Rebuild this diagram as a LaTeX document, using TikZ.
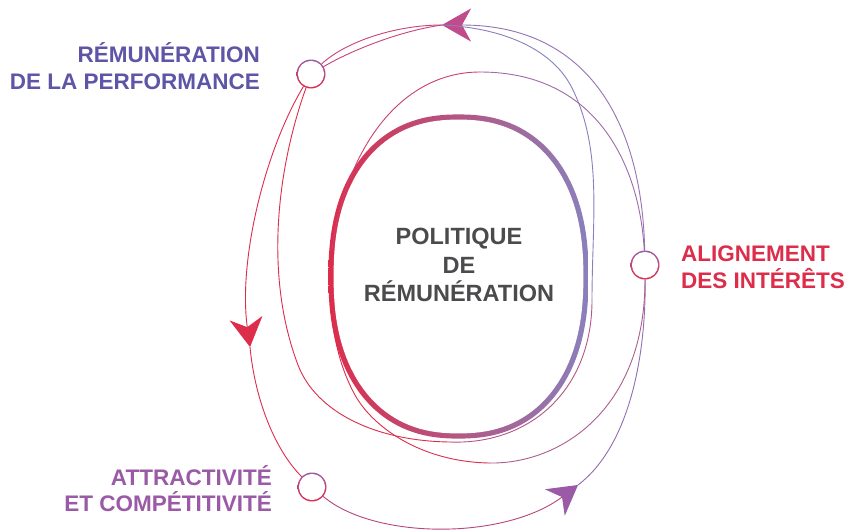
\documentclass[tikz,border=0pt]{standalone}
\usepackage{fontspec}
\setmainfont{Liberation Sans}
\usetikzlibrary{arrows.meta,backgrounds}

\definecolor{pred}{HTML}{DC2D4B}
\definecolor{pblue}{HTML}{8A80BD}
\definecolor{pviolet}{HTML}{9A5AA6}
\definecolor{pmag}{HTML}{C04C8C}
\definecolor{pindigo}{HTML}{5F55A6}
\definecolor{pgrey}{HTML}{4B4B4D}

\newcommand\blobpath[2]{plot[domain=0:360, samples=145, variable=\t]
  ({#1*cos(\t)*pow(abs(cos(\t))+0.0001,-0.13)}, {#2*sin(\t)*pow(abs(sin(\t))+0.0001,-0.13)}) -- cycle}

\begin{document}
\begin{tikzpicture}[
  x=1pt, y=-1pt,
  lbl/.style={font=\fontsize{22.5}{26.5}\selectfont\bfseries, inner sep=0pt},
  ring/.style={circle, minimum size=29pt, inner sep=0pt, top color=pviolet, bottom color=pred,
               path picture={\fill[white] (path picture bounding box.center) circle (13.1pt);}},
  strand/.style={line width=0.9pt, line cap=round},
  arr/.style={strand, -{Stealth[length=29pt, width=33pt, inset=9pt, color=#1]}}
]
\useasboundingbox (0,0) rectangle (845,531);

\node[ring] (perf)     at (311, 74) {};
\node[ring] (interets) at (645,265) {};
\node[ring] (attr)     at (312,487) {};

\node[lbl, text=pindigo, align=right, anchor=south east] (perftxt) at (260,89.5) {RÉMUNÉRATION\\DE LA PERFORMANCE};
\node[lbl, text=pred,    align=left,  anchor=south west] (inttxt)  at (681,288.5) {ALIGNEMENT\\DES INTÉRÊTS};
\node[lbl, text=pviolet, align=right, anchor=south east] (attrtxt) at (272,512) {ATTRACTIVITÉ\\ET COMPÉTITIVITÉ};
\node[font=\fontsize{23.5}{28.5}\selectfont\bfseries, text=pgrey, align=center, anchor=south,
      inner sep=0pt] (pol) at (459,302) {POLITIQUE\\DE\\RÉMUNÉRATION};

\coordinate (tipL) at (250,347);
\coordinate (tipB) at (578,485);
\coordinate (tipT) at (442,25);
\coordinate (s2b)  at (450,442);
\coordinate (s2r)  at (592,300);
\coordinate (mtop) at (480,72);
\coordinate (mleft) at (332,250);
\coordinate (mbot) at (490,463);

\begin{scope}[on background layer]
\fill[white] (0,0) rectangle (845,531);
\begin{scope}[shift={(458.5,276.5)}]
  \shade[left color=pred, right color=pblue] \blobpath{130.1}{162.1};
  \fill[white] \blobpath{124.9}{156.9};
\end{scope}

\draw[arr=pred, pred] (perf) .. controls (265,150) and (238,260) .. (tipL);
\draw[strand, pred] (tipL) .. controls (255,400) and (275,450) .. (attr);
\draw[arr=pviolet, pred!45!pviolet] (attr) .. controls (375,540) and (505,540) .. (tipB);
\draw[strand, pviolet!50!pblue] (tipB) .. controls (628,447) and (646,360) .. (interets);
\draw[arr=pmag, pblue!75!pmag] (interets) .. controls (642,125) and (590,25) .. (tipT);
\draw[strand, pmag!70!pred] (tipT) .. controls (395,25) and (345,42) .. (perf);
\draw[strand, pmag!70!pred] (tipT) .. controls (400,31) and (352,50) .. (perf);

\draw[strand, pred] (perf) .. controls (280,160) and (262,270) .. (298,365)
  .. controls (316,412) and (375,441) .. (s2b);
\draw[strand, pred!50!pblue] (s2b) .. controls (530,445) and (592,390) .. (s2r);
\draw[strand, pblue] (s2r) .. controls (592,220) and (603,150) .. (572,88)
  .. controls (553,50) and (505,28) .. (tipT);

\draw[strand, pblue!60!pmag] (interets) .. controls (640,170) and (600,72) .. (mtop);
\draw[strand, pmag!60!pred] (mtop) .. controls (400,72) and (345,150) .. (mleft);
\draw[strand, pred] (mleft) .. controls (327,290) and (330,350) .. (355,395)
  .. controls (372,426) and (420,462) .. (mbot);
\draw[strand, pred!40!pblue] (mbot) .. controls (560,464) and (645,410) .. (interets);
\end{scope}
\end{tikzpicture}
\end{document}
